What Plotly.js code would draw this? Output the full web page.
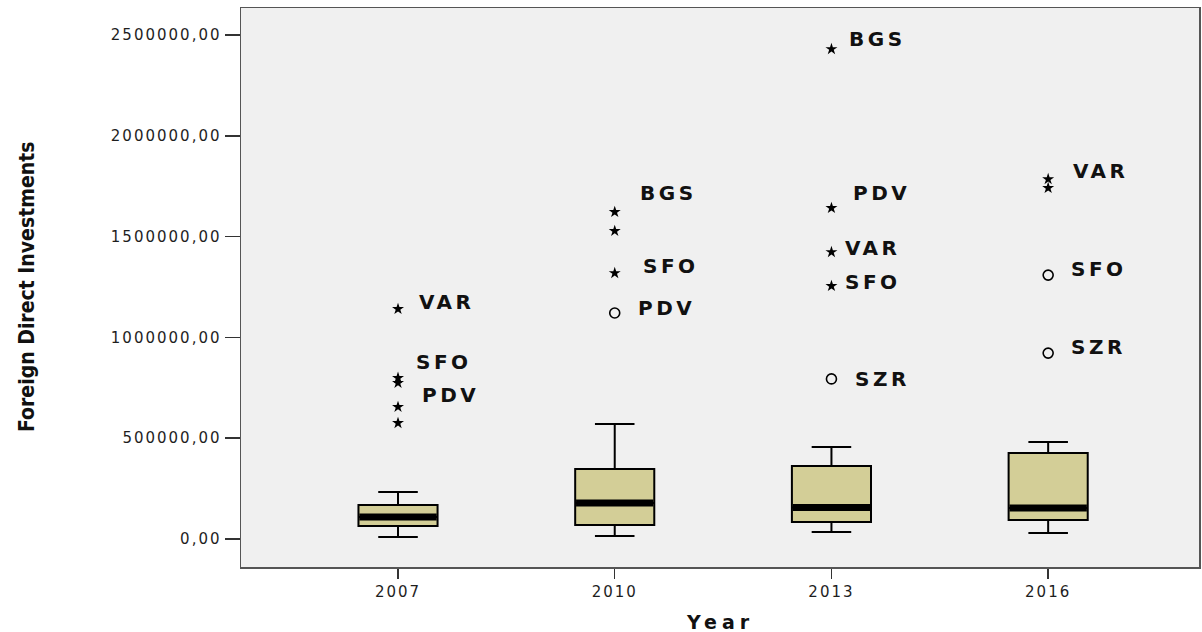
<!DOCTYPE html>
<html>
<head>
<meta charset="utf-8">
<script src="https://cdn.plot.ly/plotly-3.0.1.min.js"></script>
<style>
  html, body { margin: 0; padding: 0; background: #fff; }
  #chart { width: 1202px; height: 632px; }
  .xtick text, .ytick text { letter-spacing: 2px; }
  .annotation-text { letter-spacing: 3.5px; }
  g.annotation[data-index="14"] .annotation-text { letter-spacing: 0px; }
  g.annotation[data-index="15"] .annotation-text { letter-spacing: 5px; }
</style>
</head>
<body>
<div id="chart"></div>
<script>
// ---- data ----
const years = ['2007', '2010', '2013', '2016'];
const q1 = [64000, 69000, 84000, 94000];
const median = [109000, 179000, 156000, 154000];
const q3 = [169000, 347000, 362000, 427000];
const whiskerLow = [10000, 15000, 35000, 30000];
const whiskerHigh = [233000, 570000, 456000, 481000];
// extreme values (stars) and outliers (circles) per year
const extremes = [
  [1141000, 799000, 774000, 655000, 575000],
  [1622000, 1528000, 1319000],
  [2430000, 1642000, 1423000, 1255000],
  [1785000, 1741000]
];
const outliers = [
  [],
  [1121000],
  [794000],
  [1309000, 922000]
];
// case labels: name, year index, kind (e = star, o = circle), index in that list
const labelNames = ['VAR', 'SFO', 'PDV', 'BGS', 'SFO', 'PDV', 'BGS', 'PDV', 'VAR', 'SFO', 'SZR', 'VAR', 'SFO', 'SZR'];
const labelYear  = [0, 0, 0, 1, 1, 1, 2, 2, 2, 2, 2, 3, 3, 3];
const labelKind  = ['e', 'e', 'e', 'e', 'e', 'o', 'e', 'e', 'e', 'e', 'o', 'e', 'o', 'o'];
const labelIndex = [0, 1, 2, 0, 2, 0, 0, 1, 2, 3, 0, 0, 0, 1];
const yTickValues = [0, 500000, 1000000, 1500000, 2000000, 2500000];

// ---- layout / style (pixel offsets of the label text from its point) ----
const labelOffsets = [
  [19, 7], [16, 16], [22, -12],
  [23, 19], [26, 7], [21, 5],
  [16, 10], [20, 15], [12, 4], [12, 4], [22, 0],
  [23, 8], [21, 6], [21, 6]
];
const boxWidth = 0.365;
const boxFill = 'rgb(211,206,151)';
const tickFont = { family: 'DejaVu Sans, sans-serif', size: 15, color: '#1e1e1e' };

const xIdx = years.map((_, i) => i);

const boxTrace = {
  type: 'box',
  x: xIdx,
  q1: q1, median: median, q3: q3,
  lowerfence: whiskerLow, upperfence: whiskerHigh,
  boxpoints: false,
  width: boxWidth,
  whiskerwidth: 0.5,
  fillcolor: boxFill,
  line: { color: '#000', width: 2 },
  hoverinfo: 'skip',
  showlegend: false
};

const medX = [], medY = [];
xIdx.forEach(i => {
  medX.push(i - boxWidth / 2 + 0.004, i + boxWidth / 2 - 0.004, null);
  medY.push(median[i], median[i], null);
});
const medianTrace = {
  type: 'scatter', mode: 'lines', x: medX, y: medY,
  line: { color: '#000', width: 7 }, hoverinfo: 'skip', showlegend: false
};

const exX = [], exY = [], olX = [], olY = [];
extremes.forEach((arr, i) => arr.forEach(v => { exX.push(i); exY.push(v); }));
outliers.forEach((arr, i) => arr.forEach(v => { olX.push(i); olY.push(v); }));

const starTrace = {
  type: 'scatter', mode: 'markers', x: exX, y: exY,
  marker: { symbol: 'star', size: 9, color: '#000', line: { width: 0 } },
  hoverinfo: 'skip', showlegend: false
};
const circleTrace = {
  type: 'scatter', mode: 'markers', x: olX, y: olY,
  marker: { symbol: 'circle-open', size: 10, color: '#000', line: { width: 1.6, color: '#000' } },
  hoverinfo: 'skip', showlegend: false
};

const annotations = labelNames.map((name, k) => {
  const yi = labelYear[k];
  const val = labelKind[k] === 'e' ? extremes[yi][labelIndex[k]] : outliers[yi][labelIndex[k]];
  return {
    x: yi, y: val, xref: 'x', yref: 'y',
    text: name, showarrow: false,
    xanchor: 'left', yanchor: 'middle',
    xshift: labelOffsets[k][0], yshift: labelOffsets[k][1],
    font: { family: 'DejaVu Sans, sans-serif', size: 20, weight: 'bold', color: '#111' }
  };
});
// axis titles as annotations (indices 14, 15)
annotations.push({
  xref: 'paper', yref: 'paper', x: 0, y: 0.5,
  xshift: -215, xanchor: 'center', yanchor: 'middle',
  text: 'Foreign Direct Investments', textangle: -90, showarrow: false,
  font: { family: 'Liberation Sans Narrow, DejaVu Sans Condensed, Arial Narrow, sans-serif', size: 21, weight: 'bold', color: '#111' }
});
annotations.push({
  xref: 'paper', yref: 'paper', x: 0.5, y: 0,
  yshift: -55, xanchor: 'center', yanchor: 'middle',
  text: 'Year', showarrow: false,
  font: { family: 'DejaVu Sans, sans-serif', size: 19, weight: 'bold', color: '#111' }
});

const layout = {
  width: 1202, height: 632,
  margin: { l: 241, r: 3, t: 8, b: 65 },
  paper_bgcolor: '#ffffff',
  plot_bgcolor: '#f0f0f0',
  showlegend: false,
  xaxis: {
    range: [-0.7245, 3.696],
    tickmode: 'array', tickvals: xIdx, ticktext: years,
    ticks: 'outside', ticklen: 10, tickwidth: 1.5, tickcolor: '#333',
    showgrid: false, zeroline: false,
    showline: true, mirror: true, linecolor: '#555', linewidth: 1.5,
    tickfont: tickFont, fixedrange: true
  },
  yaxis: {
    range: [-139000, 2634000],
    tickmode: 'array', tickvals: yTickValues,
    ticktext: yTickValues.map(v => v.toFixed(2).replace('.', ',')),
    ticks: 'outside', ticklen: 15, tickwidth: 1.5, tickcolor: '#333',
    showgrid: false, zeroline: false,
    showline: true, mirror: true, linecolor: '#555', linewidth: 1.5,
    tickfont: tickFont, fixedrange: true
  },
  annotations: annotations
};

Plotly.newPlot('chart', [boxTrace, medianTrace, starTrace, circleTrace], layout, { displayModeBar: false, staticPlot: true });
</script>
</body>
</html>
